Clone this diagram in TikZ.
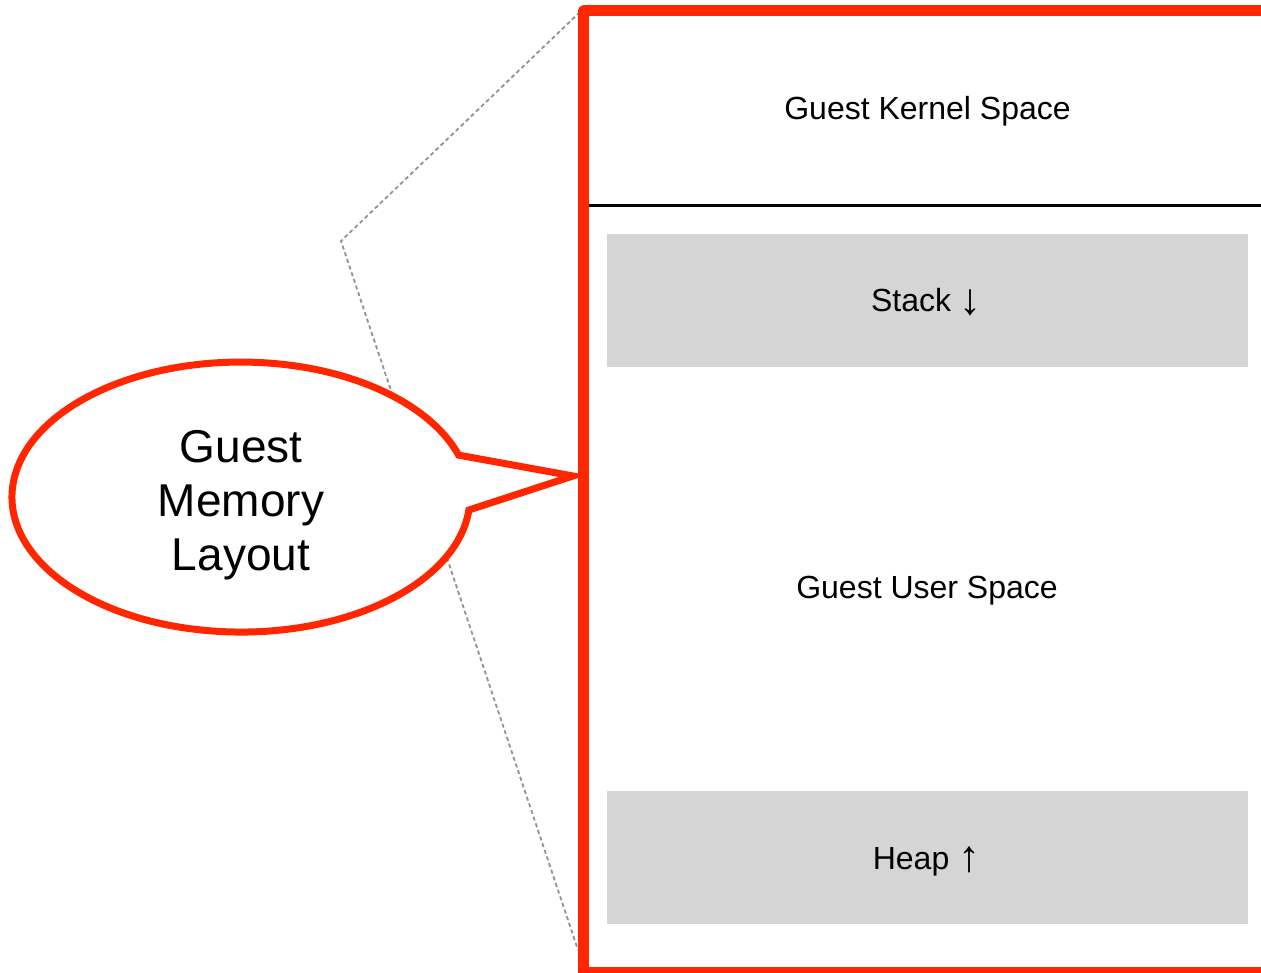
\documentclass[tikz,border=0pt]{standalone}
\usepackage{fontspec}
\setmainfont{Liberation Sans}
\definecolor{alertred}{HTML}{FF2600}
\definecolor{blockgray}{HTML}{D5D5D5}
\definecolor{guidegray}{HTML}{929292}
% taller arrow glyph next to the region names
\newcommand{\growarrow}[1]{\raisebox{-2.5pt}{\fontsize{44}{44}\selectfont #1}}
\begin{document}
\begin{tikzpicture}[x=1pt,y=-1pt,
  label32/.style={font=\fontsize{32}{38}\selectfont, inner sep=0pt, anchor=base},
  calloutfont/.style={font=\fontsize{46}{54}\selectfont, inner sep=0pt, align=center, anchor=base},
  block/.style={fill=blockgray, draw=none},
  guide/.style={draw=guidegray, line width=1.8pt, dash pattern=on 4pt off 3pt},
  frame/.style={draw=alertred, line width=11pt, line join=round},
  bubble/.style={draw=alertred, fill=white, line width=7pt, line join=miter}]
\useasboundingbox (0,0) rectangle (1261,973);
\begin{scope}
\clip (0,0) rectangle (1261,973);

% zoom guide lines from the memory frame to the callout
\coordinate (frameTL) at (580,12);
\coordinate (frameBL) at (578,950);
\coordinate (guideKnee) at (341,241);
\draw[guide] (frameTL) -- (guideKnee) -- (frameBL);

% gray region blocks
\fill[block] (607,234) rectangle (1248,367);
\fill[block] (607,791) rectangle (1248,924);

% kernel / user boundary
\draw[line width=2.8pt] (588,205.5) -- (1270,205.5);

% speech bubble pointing at the frame (the mitered tip hides under the frame)
\coordinate (tip) at (573,476);
\draw[bubble] (468.9,510) arc[start angle=5.5, end angle=341.9, x radius=229, y radius=135] -- (tip) -- cycle;

% memory frame, open to the right
\draw[frame] (583.5,11) rectangle (1280,972);
\end{scope}

% labels
\node[label32] (kernel) at (927.5,120) {Guest Kernel Space};
\node[label32] (stack) at (926.5,312) {Stack \growarrow{↓}};
\node[label32] (user) at (927,598) {Guest User Space};
\node[label32] (heap) at (926.5,869) {Heap \growarrow{↑}};

\node[calloutfont] (lg1) at (241,462) {Guest};
\node[calloutfont] (lg2) at (241,516) {Memory};
\node[calloutfont] (lg3) at (241,570) {Layout};
\end{tikzpicture}
\end{document}
